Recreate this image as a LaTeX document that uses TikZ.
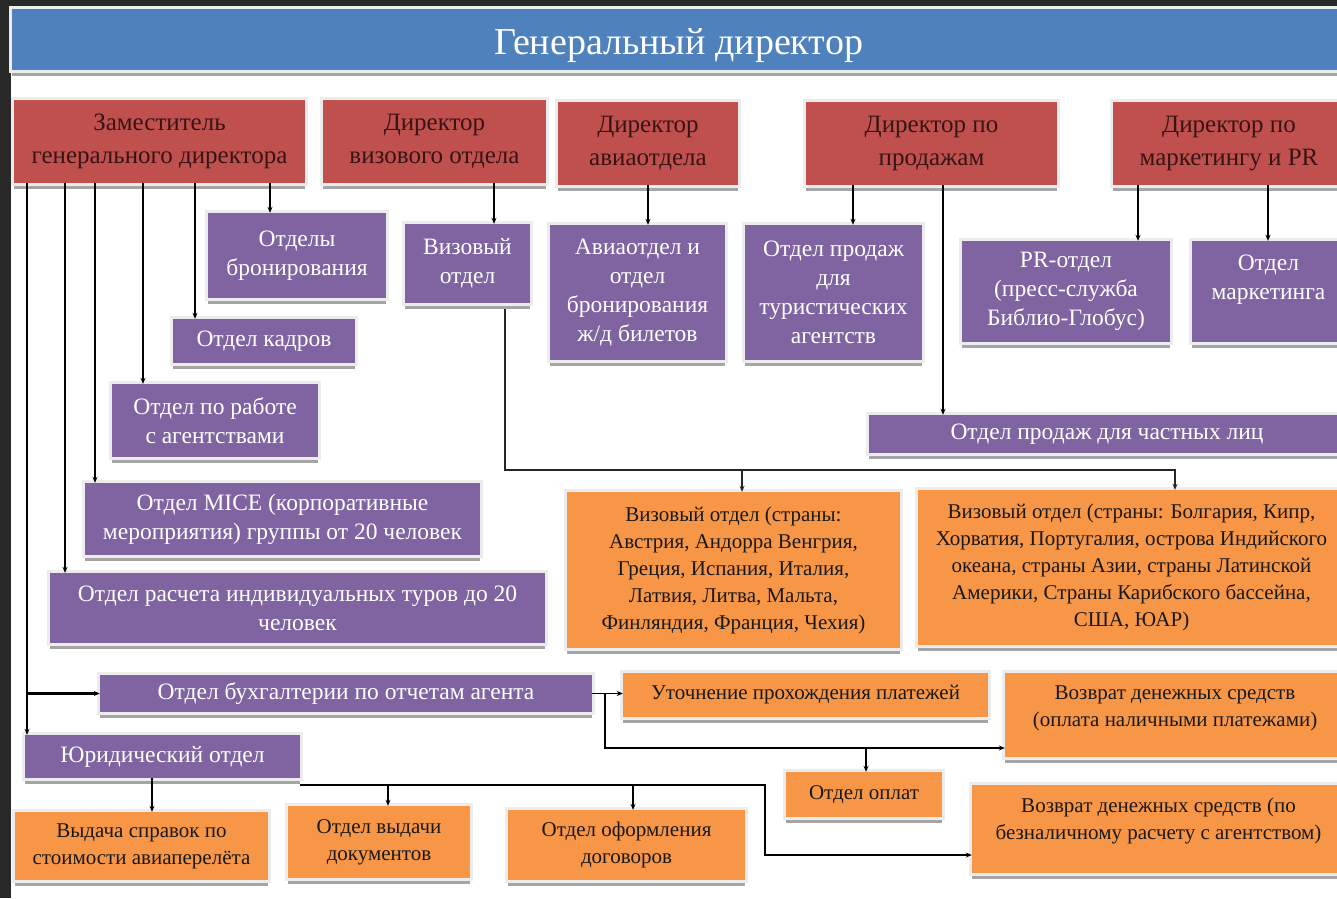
\documentclass[tikz,border=0pt]{standalone}
\usepackage{fontspec}
\setmainfont{Liberation Serif}
\usetikzlibrary{arrows.meta}
\definecolor{tbg}{RGB}{40,40,40}
\definecolor{tblue}{RGB}{79,129,189}
\definecolor{tred}{RGB}{192,80,77}
\definecolor{tpurple}{RGB}{128,100,162}
\definecolor{torange}{RGB}{247,150,70}
\definecolor{tredtext}{RGB}{55,20,20}
\definecolor{tframe}{RGB}{236,236,236}
\definecolor{tshadow}{RGB}{165,165,165}
\tikzset{
  boxbase/.style={inner sep=0pt, align=center,
    preaction={fill=tshadow, transform canvas={yshift=-6pt}},
    preaction={draw=tframe, line width=6pt}},
  titlebox/.style={boxbase, fill=tblue, text=white, font=\fontsize{38}{42}\selectfont},
  redbox/.style={boxbase, fill=tred, text=tredtext, font=\fontsize{25}{33}\selectfont},
  purplebox/.style={boxbase, fill=tpurple, text=white, font=\fontsize{23.5}{29}\selectfont},
  orangebox/.style={boxbase, fill=torange, text=black!90, font=\fontsize{21}{27}\selectfont},
  thk/.style={draw=black, line width=2.2pt, -{Stealth[length=6pt,width=5pt]}},
  thn/.style={draw=black!85, line width=1.2pt, -{Stealth[length=6pt,width=5pt]}},
  thm/.style={draw=black, line width=1.6pt, -{Stealth[length=6pt,width=5pt]}},
}
\begin{document}
\begin{tikzpicture}[x=1pt, y=-1pt]
\useasboundingbox (0,0) rectangle (1337,898);
\clip (0,0) rectangle (1337,898);
\fill[tbg] (0,0) rectangle (1337,898);
\fill[white] (11,8) rectangle (1337,898);

% title
\node[titlebox, minimum width=1333pt, minimum height=61pt] (gd) at (678.5,39.5) {\raisebox{-15pt}[0pt][0pt]{Генеральный директор}};

% directors
\node[redbox, minimum width=291pt, minimum height=83pt] (zam) at (159.5,141.5) {Заместитель\\генерального директора};
\node[redbox, minimum width=223pt, minimum height=83pt] (dviz) at (434.5,141.5) {Директор\\визового отдела};
\node[redbox, minimum width=180pt, minimum height=83pt] (davia) at (648,143.5) {Директор\\авиаотдела};
\node[redbox, minimum width=251pt, minimum height=83pt] (dprod) at (931.5,143.5) {Директор по\\продажам};
\node[redbox, minimum width=232pt, minimum height=83pt] (dmark) at (1229,143.5) {Директор по\\маркетингу и PR};

% purple departments
\node[purplebox, minimum width=178pt, minimum height=85pt] (bron) at (297,255.5) {Отделы\\бронирования};
\node[purplebox, minimum width=125pt, minimum height=79pt] (viz) at (467.5,263.5) {Визовый\\отдел};
\node[purplebox, minimum width=175pt, minimum height=135pt] (avia) at (637.5,292.5) {Авиаотдел и\\отдел\\бронирования\\ж/д билетов};
\node[purplebox, minimum width=177pt, minimum height=135pt] (prodta) at (833.5,292.5) {Отдел продаж\\для\\туристических\\агентств};
\node[purplebox, minimum width=208pt, minimum height=101pt] (pr) at (1066,291.5) {PR-отдел\\(пресс-служба\\Библио-Глобус)};
\node[purplebox, minimum width=153pt, minimum height=101pt] (mark) at (1268.5,291.5) {Отдел\\маркетинга\\[-10pt]\strut};
\node[purplebox, minimum width=182pt, minimum height=44pt] (kadr) at (264,341) {Отдел кадров};
\node[purplebox, minimum width=206pt, minimum height=73pt] (agent) at (215,420.5) {Отдел по работе\\с агентствами};
\node[purplebox, minimum width=476pt, minimum height=38pt] (chast) at (1107,434) {Отдел продаж для частных лиц};
\node[purplebox, minimum width=395pt, minimum height=72pt] (mice) at (282.5,519) {Отдел MICE (корпоративные\\мероприятия) группы от 20 человек};
\node[purplebox, minimum width=495pt, minimum height=70pt] (rasch) at (297.5,608) {Отдел расчета индивидуальных туров до 20\\человек};
\node[purplebox, minimum width=492pt, minimum height=37pt] (buh) at (346,693.5) {Отдел бухгалтерии по отчетам агента};
\node[purplebox, minimum width=275pt, minimum height=43pt] (jur) at (162.5,756.5) {Юридический отдел};

% orange units
\node[orangebox, minimum width=333pt, minimum height=156pt] (vz1) at (733.5,570) {Визовый отдел (страны:\\Австрия, Андорра Венгрия,\\Греция, Испания, Италия,\\Латвия, Литва, Мальта,\\Финляндия, Франция, Чехия)};
\node[orangebox, minimum width=427pt, minimum height=155pt] (vz2) at (1131.5,567.5) {Визовый отдел (страны: Болгария, Кипр,\\Хорватия, Португалия, острова Индийского\\океана, страны Азии, страны Латинской\\Америки, Страны Карибского бассейна,\\США, ЮАР)};
\node[orangebox, minimum width=365pt, minimum height=44pt] (utoch) at (805.5,695) {Уточнение прохождения платежей};
\node[orangebox, minimum width=340pt, minimum height=84pt] (vozn) at (1175,715) {Возврат денежных средств\\(оплата наличными платежами)\\[-17pt]\strut};
\node[orangebox, minimum width=156pt, minimum height=45pt] (opl) at (864,794.5) {Отдел оплат};
\node[orangebox, minimum width=373pt, minimum height=88pt] (vozb) at (1158.5,829) {Возврат денежных средств (по\\безналичному расчету с агентством)\\[-14pt]\strut};
\node[orangebox, minimum width=253pt, minimum height=68pt] (vyd) at (141.5,846) {Выдача справок по\\стоимости авиаперелёта};
\node[orangebox, minimum width=182pt, minimum height=72pt] (vydd) at (379,842) {Отдел выдачи\\документов};
\node[orangebox, minimum width=237pt, minimum height=70pt] (oform) at (626.5,845) {Отдел оформления\\договоров};

% connectors from the deputy
\draw[thk] (270,0 |- zam.south) -- (270,0 |- bron.north);
\draw[thk] (195,0 |- zam.south) -- (195,0 |- kadr.north);
\draw[thk] (143,0 |- zam.south) -- (143,0 |- agent.north);
\draw[thk] (95,0 |- zam.south) -- (95,0 |- mice.north);
\draw[thk] (65,0 |- zam.south) -- (65,0 |- rasch.north);
\draw[thk] (27,0 |- zam.south) -- (27,0 |- jur.north);
\draw[thk] (27,0 |- buh.west) -- (buh.west);

% other directors
\draw[thk] (494,0 |- dviz.south) -- (494,0 |- viz.north);
\draw[thk] (648,0 |- davia.south) -- (648,0 |- avia.north);
\draw[thk] (853,0 |- dprod.south) -- (853,0 |- prodta.north);
\draw[thk] (943,0 |- dprod.south) -- (943,0 |- chast.north);
\draw[thk] (1138,0 |- dmark.south) -- (1138,0 |- pr.north);
\draw[thk] (1268,0 |- dmark.south) -- (1268,0 |- mark.north);

% visa department split
\coordinate (vs) at (505,309);
\coordinate (vbus1) at (742,470);
\coordinate (vbus2) at (1175,470);
\draw[thn] (vs) |- (vbus2) -- (vbus2 |- vz2.north);
\draw[thn] (vbus1) -- (vbus1 |- vz1.north);

% accounting
\coordinate (bj) at (605,693.5);
\coordinate (bj2) at (866,748);
\draw[thm] (buh.east) -- (buh.east -| utoch.west);
\draw[thm] (bj) |- (vozn.west |- bj2);
\draw[thm] (bj2) -- (bj2 |- opl.north);

% legal
\coordinate (jr) at (300,785);
\coordinate (jd1) at (388,785);
\coordinate (jd2) at (633,785);
\coordinate (jc) at (765,855);
\draw[thk] (152,0 |- jur.south) -- (152,0 |- vyd.north);
\draw[thm] (jr) -| (jc) -- (vozb.west |- jc);
\draw[thm] (jd1) -- (jd1 |- vydd.north);
\draw[thm] (jd2) -- (jd2 |- oform.north);
\end{tikzpicture}
\end{document}
